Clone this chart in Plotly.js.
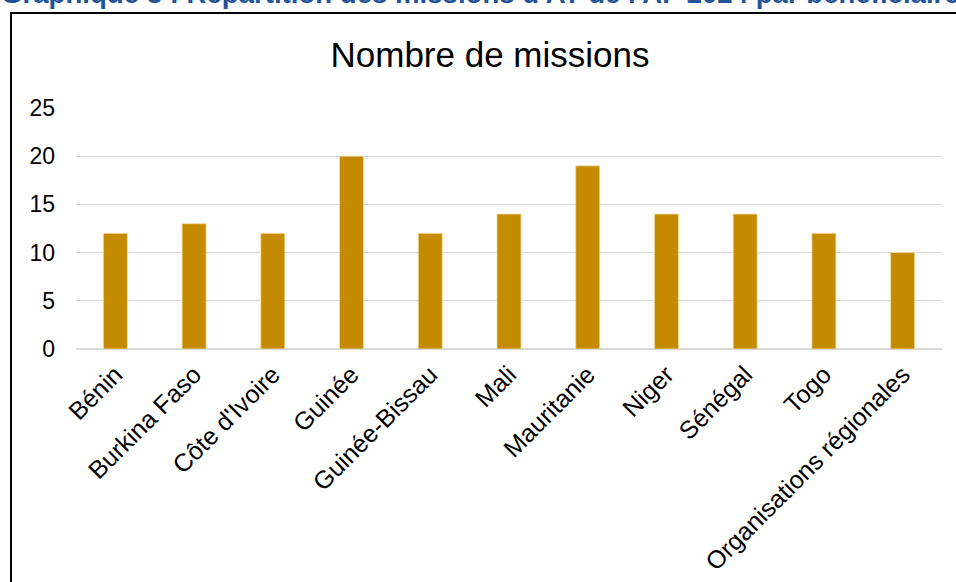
<!DOCTYPE html>
<html>
<head>
<meta charset="utf-8">
<script src="https://cdn.plot.ly/plotly-3.0.1.min.js"></script>
<style>
  html, body { margin: 0; padding: 0; background: #fff; overflow: hidden; }
  #chart { width: 956px; height: 582px; }
</style>
</head>
<body>
<div id="chart"></div>
<script>
const categories = ["Bénin", "Burkina Faso", "Côte d'Ivoire", "Guinée", "Guinée-Bissau", "Mali", "Mauritanie", "Niger", "Sénégal", "Togo", "Organisations régionales"];
const missions = [12, 13, 12, 20, 12, 14, 19, 14, 14, 12, 10];
const yTicks = [0, 5, 10, 15, 20, 25];
const chartTitle = "Nombre de missions";
const pageTitle = "Graphique 8 : Répartition des missions d'AT de l'AF 2024 par bénéficiaire";

const FONT = "Liberation Sans, Arial, sans-serif";
const L = 76, R = 14, T = 108, B = 233, W = 956, H = 582;
const pw = W - L - R, ph = H - T - B;
const px2x = p => (p - L) / pw;
const py2y = p => (H - B - p) / ph;

const trace = {
  type: 'bar',
  x: categories,
  y: missions,
  marker: { color: '#C48A00', line: { color: '#F3DDA6', width: 0.8 } },
  hoverinfo: 'x+y',
  cliponaxis: false
};

const layout = {
  width: W, height: H,
  margin: { l: L, r: R, t: T, b: B },
  paper_bgcolor: '#ffffff',
  plot_bgcolor: '#ffffff',
  bargap: 0.695,
  showlegend: false,
  font: { family: FONT, color: '#000000', size: 23 },
  title: {
    text: chartTitle,
    font: { family: FONT, size: 35, color: '#000000' },
    x: 490 / W, xanchor: 'center', xref: 'container',
    y: 1 - 55 / H, yanchor: 'middle', yref: 'container'
  },
  xaxis: {
    type: 'category',
    tickangle: -45,
    tickfont: { family: FONT, size: 25, color: '#000000' },
    showgrid: false,
    showline: false,
    ticks: '',
    ticklabelstandoff: 5,
    zeroline: false,
    fixedrange: true
  },
  yaxis: {
    range: [0, 25],
    tickvals: yTicks,
    ticktext: yTicks.map(String),
    tickfont: { family: FONT, size: 23, color: '#000000' },
    showgrid: true,
    gridcolor: '#D9D9D9',
    gridwidth: 1.3,
    zeroline: true,
    zerolinecolor: '#D9D9D9',
    zerolinewidth: 1.3,
    showline: false,
    ticks: '',
    ticklabelstandoff: 20,
    fixedrange: true
  },
  shapes: [{
    type: 'rect', xref: 'paper', yref: 'paper',
    x0: px2x(11), x1: px2x(1000),
    y0: py2y(13), y1: py2y(700),
    line: { color: '#000000', width: 2 },
    fillcolor: 'rgba(0,0,0,0)',
    layer: 'below'
  }],
  annotations: [{
    text: '<b>' + pageTitle + '</b>',
    xref: 'paper', yref: 'paper',
    x: px2x(-1), xanchor: 'left',
    y: py2y(-6), yanchor: 'middle',
    showarrow: false,
    font: { family: FONT, size: 27.6, color: '#1F5596' }
  }]
};

Plotly.newPlot('chart', [trace], layout, { displayModeBar: false, staticPlot: true });
</script>
</body>
</html>
